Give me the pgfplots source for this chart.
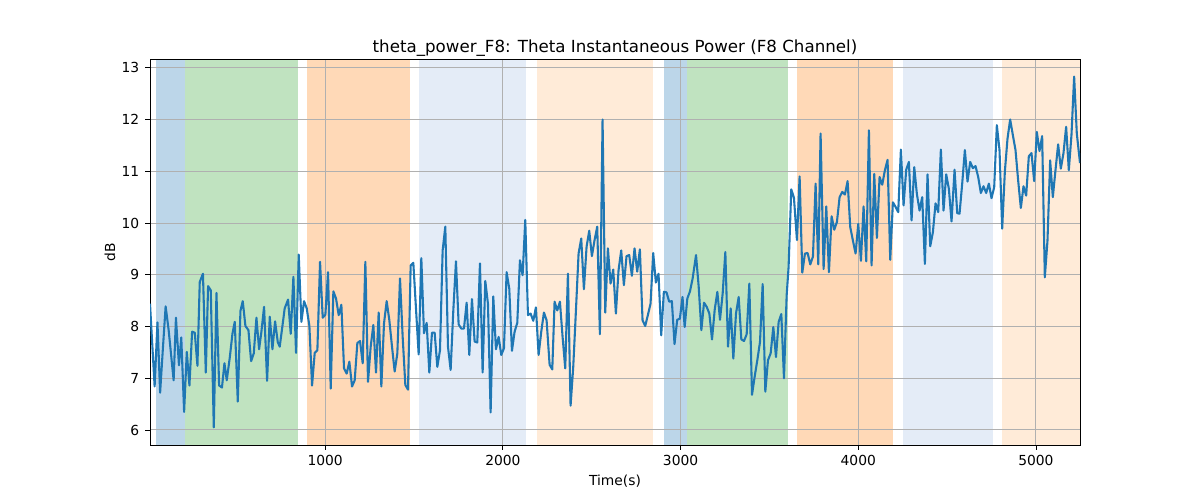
\documentclass[border=0pt]{standalone}
\usepackage{fontspec}
\setmainfont{DejaVu Sans}
\usepackage{pgfplots}
\pgfplotsset{compat=1.18}
\definecolor{tabblue}{RGB}{31,119,180}
\definecolor{spblue}{RGB}{188,214,233}
\definecolor{spgreen}{RGB}{192,227,192}
\definecolor{sporange}{RGB}{255,217,183}
\definecolor{splblue}{RGB}{228,236,247}
\definecolor{splorange}{RGB}{255,235,216}
\definecolor{gridc}{RGB}{176,176,176}
\pgfplotsset{span/.style={fill=#1, draw=none, on layer=axis background}}
\begin{document}
\begin{tikzpicture}
\begin{axis}[
  at={(0pt,0pt)}, anchor=south west,
  scale only axis, width=558pt, height=231pt,
  set layers,
  xmin=14, xmax=5248, ymin=5.71, ymax=13.15,
  xtick={1000,2000,3000,4000,5000},
  ytick={6,7,8,9,10,11,12,13},
  tick align=outside, tick pos=left,
  major tick length=2.9pt,
  every tick/.style={black, line width=0.5pt},
  grid=major,
  major grid style={gridc, line width=0.6pt},
  axis line style={line width=0.6pt},
  /pgf/number format/assume math mode=true,
  /pgf/number format/set thousands separator={},
  tick label style={font=\fontsize{8.3}{10}\selectfont},
  label style={font=\fontsize{8.3}{10}\selectfont},
  title style={font=\fontsize{10}{12}\selectfont, yshift=-7.5pt},
  title={theta\_power\_F8: Theta Instantaneous Power (F8 Channel)},
  xlabel={Time(s)}, ylabel={dB},
  xlabel style={yshift=1.5pt},
  ylabel style={yshift=-3pt},
]
\addplot[span=spblue] coordinates {(46,13.15) (211,13.15)} \closedcycle;
\addplot[span=spgreen] coordinates {(211,13.15) (847,13.15)} \closedcycle;
\addplot[span=sporange] coordinates {(896,13.15) (1475,13.15)} \closedcycle;
\addplot[span=splblue] coordinates {(1526,13.15) (2132,13.15)} \closedcycle;
\addplot[span=splorange] coordinates {(2190,13.15) (2843,13.15)} \closedcycle;
\addplot[span=spblue] coordinates {(2905,13.15) (3036,13.15)} \closedcycle;
\addplot[span=spgreen] coordinates {(3036,13.15) (3606,13.15)} \closedcycle;
\addplot[span=sporange] coordinates {(3653,13.15) (4197,13.15)} \closedcycle;
\addplot[span=splblue] coordinates {(4251,13.15) (4760,13.15)} \closedcycle;
\addplot[span=splorange] coordinates {(4807,13.15) (5248,13.15)} \closedcycle;
\addplot[tabblue, line width=1.25pt, mark=none, line join=round] coordinates {
(14,8.44) (40,6.84) (56,8.08) (71,6.72) (87,7.60) (102,8.39) (119,7.93) (147,6.96)
(160,8.17) (177,7.25) (190,7.79) (206,6.35) (221,7.51) (236,6.86) (251,7.90) (266,7.88)
(281,7.24) (294,8.86) (312,9.02) (328,7.11) (341,8.78) (356,8.70) (373,6.05) (388,8.65)
(403,6.86) (419,6.82) (433,7.29) (446,6.96) (463,7.40) (478,7.86) (491,8.09) (508,6.55)
(523,8.30) (536,8.49) (551,8.01) (568,7.93) (583,7.33) (598,7.48) (613,8.17) (628,7.56)
(641,7.90) (656,8.38) (673,6.95) (688,8.19) (703,7.56) (718,8.10) (733,7.70)
(744,7.61) (759,8.00) (772,8.35) (791,8.52) (806,7.86) (821,8.96) (836,7.49) (851,9.39)
(866,8.09) (881,8.49) (896,8.35) (911,8.01) (926,6.86) (941,7.49) (956,7.54) (971,9.25)
(986,8.17) (1001,8.23) (1016,9.05) (1031,6.80) (1046,8.68) (1061,8.54) (1076,8.22) (1091,8.42)
(1106,7.19) (1121,7.09) (1136,7.32) (1151,6.84) (1166,6.96) (1181,7.68) (1196,7.72) (1211,7.29)
(1226,9.25) (1241,6.93) (1256,7.61) (1271,8.03) (1286,7.11) (1301,8.27) (1316,6.84) (1331,8.06)
(1346,8.49) (1361,8.12) (1376,7.61) (1391,7.13) (1406,7.48) (1421,8.93) (1436,7.80) (1451,6.87)
(1466,6.78) (1481,9.18) (1496,9.23)
(1526,7.46) (1541,9.32) (1556,7.87) (1571,8.07) (1586,7.11) (1601,7.88) (1616,7.88) (1631,7.22)
(1646,7.54) (1661,9.47) (1676,9.93) (1691,7.61) (1706,7.16) (1721,8.31) (1736,9.26) (1751,8.04)
(1766,7.96) (1781,7.96) (1796,8.46) (1811,7.45) (1826,8.53) (1841,7.71) (1856,7.69) (1871,9.22)
(1886,7.11) (1901,8.88) (1916,8.44) (1931,6.34) (1946,8.58) (1961,7.56) (1976,7.80) (1991,7.45)
(2006,7.58) (2021,9.05) (2036,8.73) (2051,7.53) (2066,7.90) (2081,8.07) (2096,9.28) (2111,8.99)
(2126,10.06) (2141,8.22) (2156,8.25) (2171,8.11) (2186,8.37) (2201,7.45) (2216,7.90) (2231,8.27)
(2246,8.12) (2263,7.26)
(2278,7.17) (2291,8.48) (2306,8.31) (2321,8.48) (2336,7.80) (2351,7.19) (2366,9.02) (2381,6.47)
(2396,7.22) (2411,8.30) (2426,9.41) (2441,9.70) (2456,8.72) (2471,9.54) (2486,9.85) (2501,9.36)
(2516,9.67) (2531,9.93) (2546,7.85) (2561,12.00) (2576,8.27) (2591,9.51) (2606,8.83) (2621,9.10)
(2636,8.25) (2651,9.09) (2666,9.47) (2681,8.80) (2696,9.36) (2711,9.38) (2726,8.98) (2741,9.51)
(2756,9.06) (2771,9.49) (2786,8.12) (2801,8.01) (2816,8.22) (2831,8.44) (2846,9.42) (2861,8.85)
(2876,9.02) (2891,7.83) (2906,8.67) (2921,8.66) (2936,8.48) (2951,8.49) (2966,7.66) (2981,8.13)
(2996,8.15) (3011,8.57) (3023,7.99)
(3038,8.54) (3053,8.68) (3068,8.93) (3087,9.38) (3102,8.77) (3117,7.93) (3132,8.46) (3147,8.38)
(3162,8.25) (3177,7.75) (3192,8.32) (3207,8.67) (3222,8.13) (3237,8.64) (3252,9.44) (3267,7.61)
(3282,8.35) (3297,7.38) (3312,8.25) (3327,8.57) (3342,7.75) (3357,7.72) (3372,7.85) (3387,8.83)
(3402,6.68) (3417,7.03) (3432,7.35) (3447,7.70) (3462,8.82) (3477,6.74) (3492,7.35) (3507,7.48)
(3522,7.99) (3537,7.41) (3552,8.09) (3567,8.24) (3582,7.00) (3597,8.60) (3608,9.15) (3623,10.65)
(3638,10.49) (3655,9.67) (3670,10.90) (3685,9.04) (3700,9.41) (3715,9.42) (3730,9.20) (3745,9.35)
(3760,10.76) (3775,9.20)
(3788,11.73) (3805,9.11) (3820,10.32) (3835,9.05) (3850,10.13) (3865,9.87) (3880,10.02) (3895,10.50)
(3910,10.60) (3925,10.55) (3940,10.81) (3955,9.92) (3970,9.66) (3985,9.41) (4000,9.98) (4015,9.27)
(4030,10.32) (4045,9.26) (4060,11.79) (4075,9.18) (4090,10.95) (4105,9.71) (4120,10.89) (4135,10.74)
(4150,11.02) (4165,11.22) (4180,9.29) (4195,10.40) (4210,10.31) (4225,10.21) (4240,11.42) (4255,10.34)
(4270,11.03) (4285,11.18) (4300,10.05) (4315,11.08) (4330,10.56) (4345,10.24) (4360,10.50) (4375,9.21)
(4390,10.94) (4405,9.55) (4420,9.82) (4435,10.38) (4450,10.21) (4465,11.42) (4480,10.24) (4495,10.94)
(4510,10.66) (4525,10.03) (4542,11.03)
(4557,10.19) (4570,10.18) (4585,10.76) (4600,11.41) (4615,10.80) (4630,11.18) (4645,11.06) (4660,11.10)
(4675,10.89) (4690,10.58) (4705,10.71) (4720,10.58) (4735,10.76) (4750,10.48) (4765,10.69) (4780,11.89)
(4795,11.41) (4810,9.89) (4825,10.99) (4840,11.63) (4855,12.00) (4870,11.70) (4885,11.41) (4900,10.82)
(4915,10.29) (4930,10.71) (4945,10.53) (4960,11.29) (4975,11.35) (4990,10.81) (5005,11.76) (5020,11.39)
(5035,11.68) (5050,8.95) (5065,9.66) (5080,11.21) (5095,10.50) (5110,11.02) (5125,11.52) (5140,11.05)
(5155,11.35) (5170,11.86) (5185,11.02) (5200,11.70) (5215,12.83) (5230,11.73) (5248,11.16)
};
\end{axis}
\pgfresetboundingbox
\path[use as bounding box] (-90pt,-33pt) rectangle (630pt,267pt);
\end{tikzpicture}
\end{document}
